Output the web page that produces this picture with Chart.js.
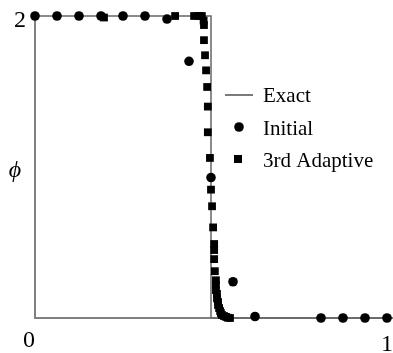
<!DOCTYPE html>
<html>
<head>
<meta charset="utf-8">
<script src="https://cdn.jsdelivr.net/npm/chart.js@4"></script>
<style>
  html, body { margin: 0; padding: 0; background: #fff; }
  #wrap { width: 393px; height: 353px; }
</style>
</head>
<body>
<div id="wrap"><canvas id="chart" width="393" height="353"></canvas></div>
<script>
// exact solution (step)
const exactX = [0, 0.5, 0.5, 1];
const exactY = [2, 2, 0, 0];

// initial mesh
const initialX = [0, 0.0625, 0.125, 0.1875, 0.25, 0.3125, 0.375, 0.4375, 0.5, 0.5625, 0.625, 0.8125, 0.875, 0.9375, 1];
const initialY = [2, 2, 2, 2, 2, 2, 1.98, 1.70, 0.93, 0.24, 0.01, 0, 0, 0, 0];

// 3rd adaptive mesh
const adaptiveX = [0.196, 0.398, 0.452, 0.466, 0.474, 0.479, 0.480, 0.480, 0.483, 0.486, 0.489, 0.491, 0.491,
  0.497, 0.500, 0.503, 0.506, 0.509, 0.509, 0.509, 0.511, 0.514, 0.514, 0.514, 0.517, 0.517, 0.520, 0.520,
  0.523, 0.526, 0.528, 0.531, 0.537, 0.543, 0.548, 0.554];
const adaptiveY = [1.99, 2, 2, 2, 2, 1.97, 1.94, 1.84, 1.74, 1.64, 1.53, 1.40, 1.23,
  1.06, 0.85, 0.74, 0.60, 0.49, 0.45, 0.39, 0.31, 0.25, 0.22, 0.185, 0.16, 0.13, 0.106, 0.086,
  0.066, 0.046, 0.033, 0.02, 0.013, 0.007, 0.002, 0];

const xTicks = [0, 1];
const yTicks = [2];
const seriesNames = ["Exact", "Initial", "3rd Adaptive"];

function pts(xs, ys) {
  return xs.map((x, i) => ({ x: x, y: ys[i] }));
}

const serif = '"Liberation Serif", "DejaVu Serif", serif';

const decor = {
  id: 'decor',
  beforeDatasetsDraw(chart) {
    const ctx = chart.ctx;
    const a = chart.chartArea;
    ctx.save();
    ctx.strokeStyle = '#808080';
    ctx.lineWidth = 2;
    ctx.beginPath();
    ctx.moveTo(a.left, a.top);
    ctx.lineTo(a.left, a.bottom);
    ctx.lineTo(chart.width, a.bottom);
    ctx.stroke();
    ctx.restore();
  },
  afterDraw(chart) {
    const ctx = chart.ctx;
    const xs = chart.scales.x, ys = chart.scales.y;
    ctx.save();
    ctx.fillStyle = '#000';
    ctx.font = '24px ' + serif;
    // y ticks
    ctx.textAlign = 'right';
    ctx.textBaseline = 'alphabetic';
    yTicks.forEach(v => ctx.fillText(String(v), xs.left - 9, ys.getPixelForValue(v) + 11));
    // x ticks
    ctx.textAlign = 'center';
    xTicks.forEach((v, i) => {
      const px = xs.getPixelForValue(v) + (i === 0 ? -6 : 0);
      ctx.fillText(String(v), px, ys.bottom + (i === 0 ? 29 : 33));
    });
    // y axis title
    ctx.font = 'italic 24px ' + serif;
    ctx.textBaseline = 'middle';
    ctx.fillText('\u03d5', 15, 171);

    // legend
    ctx.font = '21px ' + serif;
    ctx.textAlign = 'left';
    ctx.textBaseline = 'alphabetic';
    const lx = 225, tx = 263;
    const rows = [95, 127, 159];
    ctx.strokeStyle = '#222';
    ctx.lineWidth = 1.2;
    ctx.beginPath();
    ctx.moveTo(lx, rows[0]);
    ctx.lineTo(lx + 28, rows[0]);
    ctx.stroke();
    ctx.beginPath();
    ctx.arc(239, rows[1], 4.8, 0, Math.PI * 2);
    ctx.fill();
    ctx.fillRect(238 - 4, rows[2] - 4, 8, 8);
    ctx.fillText(seriesNames[0], tx, 102);
    ctx.fillText(seriesNames[1], tx, 135);
    ctx.fillText(seriesNames[2], tx, 167);
    ctx.restore();
  }
};

new Chart(document.getElementById('chart'), {
  type: 'scatter',
  data: {
    datasets: [
      {
        label: seriesNames[2],
        data: pts(adaptiveX, adaptiveY),
        pointStyle: 'rect',
        pointRadius: 5.5,
        backgroundColor: '#000',
        borderColor: '#000',
        borderWidth: 0,
        order: 0
      },
      {
        label: seriesNames[1],
        data: pts(initialX, initialY),
        pointStyle: 'circle',
        pointRadius: 4.8,
        backgroundColor: '#000',
        borderColor: '#000',
        borderWidth: 0,
        order: 1
      },
      {
        label: seriesNames[0],
        data: pts(exactX, exactY),
        showLine: true,
        pointRadius: 0,
        borderColor: '#666',
        borderWidth: 1.5,
        order: 2
      }
    ]
  },
  options: {
    responsive: false,
    animation: false,
    clip: false,
    layout: { padding: { left: 35, top: 16, right: 6, bottom: 35 } },
    plugins: { legend: { display: false }, tooltip: { enabled: false } },
    scales: {
      x: { type: 'linear', min: 0, max: 1, display: false },
      y: { type: 'linear', min: 0, max: 2, display: false }
    }
  },
  plugins: [decor]
});
</script>
</body>
</html>
